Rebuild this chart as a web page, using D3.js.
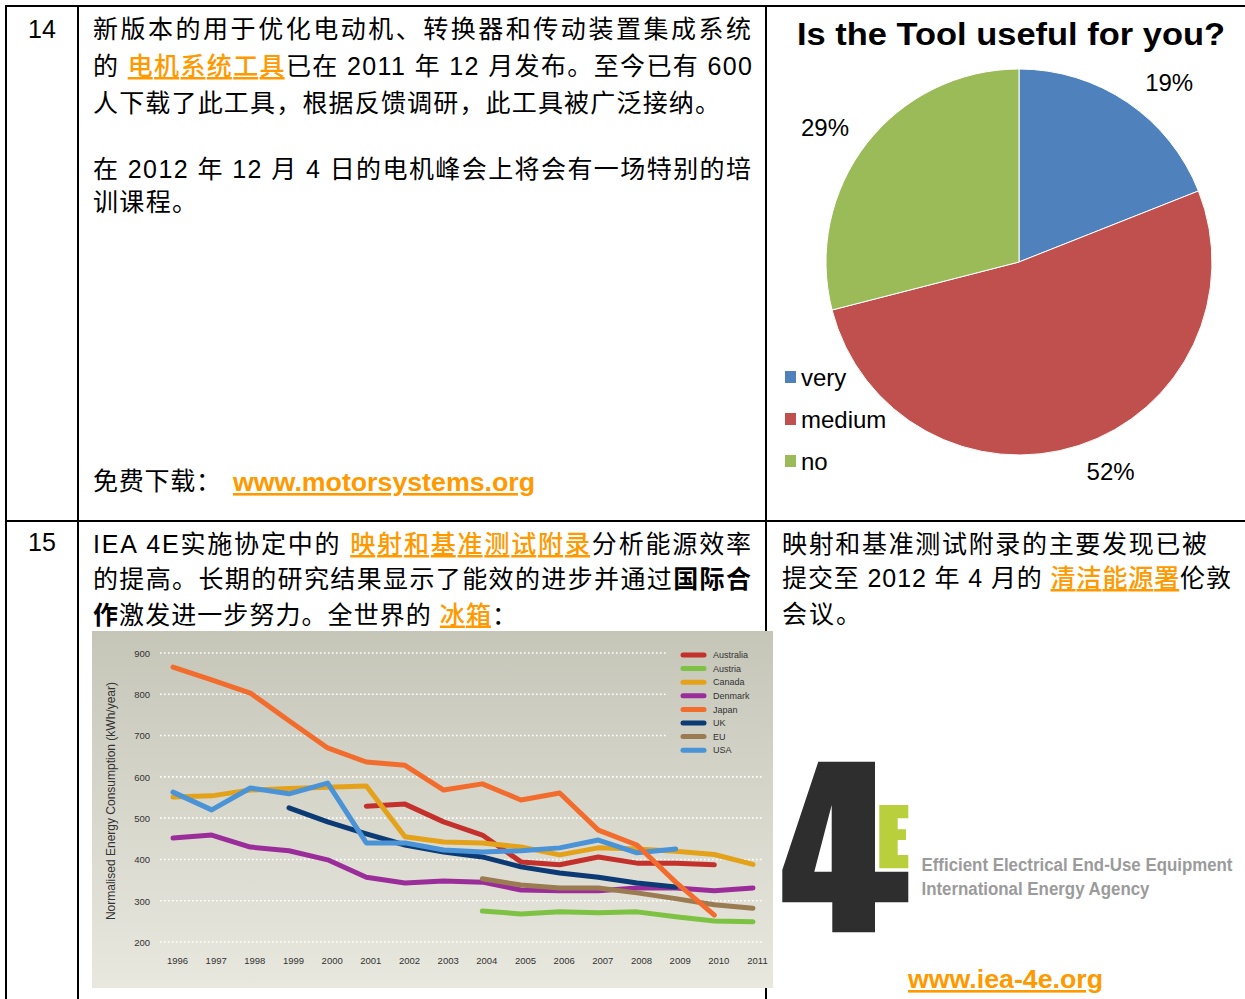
<!DOCTYPE html>
<html><head><meta charset="utf-8">
<script src="https://cdn.jsdelivr.net/npm/d3@7"></script>
<style>
html,body{margin:0;padding:0;background:#fff;overflow:hidden;}
svg{display:block;}
</style></head>
<body>
<script>
// ---------------- DATA ----------------
// Pie chart
const pieTitle = "Is the Tool useful for you?";
const pieCategories = ["very", "medium", "no"];
const pieValues = [19, 52, 29];
const pieColors = ["#4f81bd", "#c0504d", "#9bbb59"];

// Line chart
const xTicks = [1996,1997,1998,1999,2000,2001,2002,2003,2004,2005,2006,2007,2008,2009,2010,2011];
const yTicks = [200,300,400,500,600,700,800,900];
const yTitle = "Normalised Energy Consumption (kWh/year)";
const countries = ["Australia","Austria","Canada","Denmark","Japan","UK","EU","USA"];
const countryColors = ["#c4302b","#7dc242","#e3a21a","#9b2d9b","#f26d2d","#0b3a75","#9b7b51","#4a93d6"];
const australia = [529,534,491,459,394,387,406,391,391,387];            // 2001-2010
const austria   = [275,268,273,271,273,261,251,249];                    // 2004-2011
const canada    = [551,554,568,572,575,578,455,442,440,430,411,428,425,420,412,388]; // 1996-2011
const denmark   = [452,459,430,421,399,357,343,348,345,326,324,324,331,331,324,331]; // 1996-2011
const japan     = [866,835,803,736,670,636,628,568,583,544,561,471,435,345,265];     // 1996-2010
const uk        = [525,491,462,435,418,406,382,367,357,343,333];        // 1999-2009
const eu        = [353,338,331,331,319,305,290,282];                    // 2004-2011
const usa       = [563,520,573,559,585,440,440,423,418,421,428,447,416,425]; // 1996-2009
const startYears = {Australia:2001, Austria:2004, Canada:1996, Denmark:1996, Japan:1996, UK:1999, EU:2004, USA:1996};
const seriesValues = {Australia:australia, Austria:austria, Canada:canada, Denmark:denmark, Japan:japan, UK:uk, EU:eu, USA:usa};
const drawOrder = ["Austria","Denmark","EU","Australia","UK","Canada","USA","Japan"];

// Document text
const rowNumbers = ["14", "15"];
const row14 = [
  [{t:"新版本的用于优化电动机、转换器和传动装置集成系统"}],
  [{t:"的 "},{t:"电机系统工具",link:1},{t:"已在 2011 年 12 月发布。至今已有 600"}],
  [{t:"人下载了此工具，根据反馈调研，此工具被广泛接纳。"}],
  [{t:"在 2012 年 12 月 4 日的电机峰会上将会有一场特别的培"}],
  [{t:"训课程。"}]
];
const row14Download = "免费下载：";
const row14Url = "www.motorsystems.org";
const row15Left = [
  [{t:"IEA 4E实施协定中的 "},{t:"映射和基准测试附录",link:1},{t:"分析能源效率"}],
  [{t:"的提高。长期的研究结果显示了能效的进步并通过"},{t:"国际合",bold:1}],
  [{t:"作",bold:1},{t:"激发进一步努力。全世界的 "},{t:"冰箱",link:1},{t:"："}]
];
const row15Right = [
  [{t:"映射和基准测试附录的主要发现已被"}],
  [{t:"提交至 2012 年 4 月的 "},{t:"清洁能源署",link:1},{t:"伦敦"}],
  [{t:"会议。"}]
];
const logoLine1 = "Efficient Electrical End-Use Equipment";
const logoLine2 = "International Energy Agency";
const logoUrl = "www.iea-4e.org";

// ---------------- DRAW ----------------
const W = 1245, H = 999;
const FONT = '"Liberation Sans", Arial, "Noto Sans CJK SC", sans-serif';
const ORANGE = "#ff9900";
const svg = d3.select("body").append("svg").attr("width", W).attr("height", H)
  .attr("font-family", FONT);

// table borders
const borders = svg.append("g").attr("stroke", "#000").attr("stroke-width", 2);
borders.append("line").attr("x1", 5).attr("x2", W).attr("y1", 6).attr("y2", 6);
borders.append("line").attr("x1", 5).attr("x2", W).attr("y1", 521).attr("y2", 521);
borders.append("line").attr("x1", 6).attr("x2", 6).attr("y1", 5).attr("y2", H);
borders.append("line").attr("x1", 78).attr("x2", 78).attr("y1", 5).attr("y2", H);
borders.append("line").attr("x1", 766).attr("x2", 766).attr("y1", 5).attr("y2", H);

function textLine(x, y, segs, len, size) {
  const t = svg.append("text").attr("x", x).attr("y", y)
    .attr("font-size", size || 25).attr("fill", "#000");
  if (len) t.attr("textLength", len).attr("lengthAdjust", "spacing");
  segs.forEach(s => {
    const ts = t.append("tspan").text(s.t);
    if (s.link) ts.attr("fill", ORANGE).attr("font-weight", 500).style("text-decoration", "underline");
    if (s.bold) ts.attr("font-weight", "bold");
  });
  return t;
}

// row numbers
textLine(28, 38, [{t:rowNumbers[0]}], null, 25);
textLine(28, 551, [{t:rowNumbers[1]}], null, 25);

// row 14 text
const r14y = [38, 75, 112, 178, 211];
const r14len = [658, 659, 627, 658, 104];
row14.forEach((segs, i) => textLine(93, r14y[i], segs, r14len[i]));
textLine(93, 490, [{t:row14Download}], 128);
svg.append("text").attr("x", 233).attr("y", 491).attr("font-size", 26).attr("font-weight", "bold")
  .attr("fill", ORANGE).style("text-decoration", "underline")
  .attr("textLength", 302).attr("lengthAdjust", "spacingAndGlyphs").text(row14Url);

// row 15 text
const r15y = [553, 587.5, 623.5];
const r15len = [658, 658, 424];
row15Left.forEach((segs, i) => textLine(93, r15y[i], segs, r15len[i]));
const r15ry = [552.5, 587, 623];
const r15rlen = [425, 449, 79];
row15Right.forEach((segs, i) => textLine(782, r15ry[i], segs, r15rlen[i]));

// ---------------- PIE ----------------
svg.append("text").attr("x", 797).attr("y", 45).attr("font-size", 32).attr("font-weight", "bold")
  .attr("textLength", 428).attr("lengthAdjust", "spacingAndGlyphs").text(pieTitle);
const pieR = 193;
const pieG = svg.append("g").attr("transform", "translate(1019,262)");
const arcs = d3.pie().sort(null).value(d => d)(pieValues);
const arc = d3.arc().innerRadius(0).outerRadius(pieR);
pieG.selectAll("path").data(arcs).join("path")
  .attr("d", arc).attr("fill", (d, i) => pieColors[i])
  .attr("stroke", "#fff").attr("stroke-width", 1);
const labelArc = d3.arc().innerRadius(pieR * 1.2).outerRadius(pieR * 1.2);
const labelNudge = [[20, 12], [20, -11], [-11, 7]];
pieG.selectAll("text.pct").data(arcs).join("text").attr("class", "pct")
  .attr("x", (d, i) => labelArc.centroid(d)[0] + labelNudge[i][0])
  .attr("y", (d, i) => labelArc.centroid(d)[1] + labelNudge[i][1] + 8.5)
  .attr("text-anchor", "middle").attr("font-size", 24)
  .text(d => Math.round(d.data / d3.sum(pieValues) * 100) + "%");
// legend
const pl = svg.append("g");
pieCategories.forEach((c, i) => {
  const cy = 377 + i * 42;
  pl.append("rect").attr("x", 785).attr("y", cy - 6).attr("width", 11).attr("height", 12).attr("fill", pieColors[i]);
  pl.append("text").attr("x", 801).attr("y", cy + 8.5).attr("font-size", 24).text(c);
});

// ---------------- LINE CHART ----------------
const defs = svg.append("defs");
const grad = defs.append("linearGradient").attr("id", "bg").attr("x1", 0).attr("x2", 0).attr("y1", 0).attr("y2", 1);
grad.append("stop").attr("offset", "0%").attr("stop-color", "#c5c5b8");
grad.append("stop").attr("offset", "100%").attr("stop-color", "#e9e8df");
svg.append("rect").attr("x", 92).attr("y", 631).attr("width", 681).attr("height", 357).attr("fill", "url(#bg)");

const x = d3.scaleLinear().domain([1996, 2011]).range([173, 753]);
const y = d3.scaleLinear().domain([200, 900]).range([942, 653]);
const chart = svg.append("g");

// grid
chart.selectAll("line.grid").data(yTicks).join("line").attr("class", "grid")
  .attr("x1", 160).attr("x2", d => d >= 700 ? 668 : 763)
  .attr("y1", d => y(d)).attr("y2", d => y(d))
  .attr("stroke", "#fff").attr("stroke-width", 1.6).attr("stroke-dasharray", "1.6,2.4");

// y axis labels
const yAxis = d3.axisLeft(y).tickValues(yTicks).tickSize(0).tickPadding(0);
const yg = chart.append("g").attr("transform", "translate(150,0)").call(yAxis);
yg.select(".domain").remove();
yg.selectAll("text").attr("font-size", 9.5).attr("fill", "#333").attr("font-family", FONT).attr("dy", "0.35em");

// x axis labels
const xAxis = d3.axisBottom(x).tickValues(xTicks).tickFormat(d3.format("d")).tickSize(0).tickPadding(0);
const xg = chart.append("g").attr("transform", "translate(4,961)").call(xAxis);
xg.select(".domain").remove();
xg.selectAll("text").attr("font-size", 9.5).attr("fill", "#333").attr("font-family", FONT).attr("dy", "0.35em");

// y title
chart.append("text").attr("transform", "translate(115,801) rotate(-90)")
  .attr("text-anchor", "middle").attr("font-size", 12).attr("fill", "#333").text(yTitle);

// lines
const line = d3.line().x(d => x(d[0])).y(d => y(d[1]));
drawOrder.forEach(c => {
  const pts = seriesValues[c].map((v, i) => [startYears[c] + i, v]);
  chart.append("path").attr("d", line(pts)).attr("fill", "none")
    .attr("stroke", countryColors[countries.indexOf(c)]).attr("stroke-width", 5)
    .attr("stroke-linejoin", "round").attr("stroke-linecap", "round");
});

// legend
countries.forEach((c, i) => {
  const ly = 655 + i * 13.6;
  chart.append("line").attr("x1", 683).attr("x2", 704).attr("y1", ly).attr("y2", ly)
    .attr("stroke", countryColors[i]).attr("stroke-width", 5).attr("stroke-linecap", "round");
  chart.append("text").attr("x", 713).attr("y", ly + 3.2).attr("font-size", 9).attr("fill", "#333").text(c);
});

// ---------------- 4E LOGO ----------------
const logo = svg.append("g");
logo.append("path").attr("fill-rule", "evenodd").attr("fill", "#2e2e2e")
  .attr("d", "M818.3,761.7 L875,761.7 L875,871.7 L908.3,871.7 L908.3,902.3 L875,902.3 L875,932.3 L832.3,932.3 L832.3,902.3 L782.3,902.3 L782.3,870 Z M831.7,805 L831.7,871.7 L814.3,871.7 Z");
logo.append("path").attr("fill", "#b9cf3c")
  .attr("d", "M879.3,805 L908.3,805 L908.3,818.3 L897.7,818.3 L897.7,829.3 L906,829.3 L906,840 L897.7,840 L897.7,855 L908.3,855 L908.3,868.3 L879.3,868.3 Z");
logo.append("text").attr("x", 921.5).attr("y", 870.5).attr("font-size", 17.5).attr("font-weight", "bold")
  .attr("fill", "#9b9b9b").attr("textLength", 311).attr("lengthAdjust", "spacingAndGlyphs").text(logoLine1);
logo.append("text").attr("x", 921.5).attr("y", 895).attr("font-size", 17.5).attr("font-weight", "bold")
  .attr("fill", "#9b9b9b").attr("textLength", 228).attr("lengthAdjust", "spacingAndGlyphs").text(logoLine2);
svg.append("text").attr("x", 908).attr("y", 988).attr("font-size", 26).attr("font-weight", "bold")
  .attr("fill", ORANGE).style("text-decoration", "underline")
  .attr("textLength", 195).attr("lengthAdjust", "spacingAndGlyphs").text(logoUrl);
</script>
</body></html>
